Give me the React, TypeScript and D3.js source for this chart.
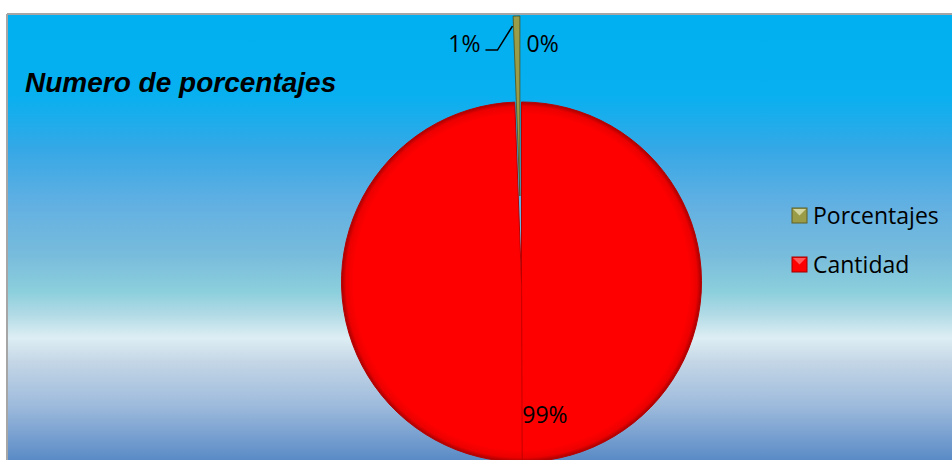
import React from 'react';
import * as d3 from 'd3';

// ---- data ----
const categories = ['Porcentajes', 'Cantidad'];
const values = [0.6, 99.4];
const sliceColors = ['#9a9c48', '#ff0000'];
const legendLight = ['#d4d6a0', '#ff5a5a'];
const legendDark = ['#5e6028', '#a00000'];
const sliverLabels = ['1%', '0%'];
const mainLabel = '99%';
const title = 'Numero de porcentajes';

const W = 952;
const H = 460;
const FONT = "'Open Sans', 'Noto Sans', sans-serif";

export default function App() {
  const cx = 521.5;
  const cy = 282;
  const r = 180;
  const explode = 86;

  const total = d3.sum(values);
  const a0 = (values[0] / total) * Math.PI * 2;
  const pie = d3
    .pie<number>()
    .sort(null)
    .value((d) => d)
    .startAngle(-a0)
    .endAngle(Math.PI * 2 - a0);
  const arcs = pie(values);
  const arc = d3.arc<d3.PieArcDatum<number>>().innerRadius(0).outerRadius(r);

  const sliver = arcs[0];
  const sMid = (sliver.startAngle + sliver.endAngle) / 2;
  const [ex, ey] = d3.pointRadial(sMid, explode);
  const [ox, oy] = d3.pointRadial(sMid, r + explode);
  const sx = cx + ox;
  const sy = cy + oy;

  const main = arcs[1];
  const mMid = (main.startAngle + main.endAngle) / 2;
  const [lx, ly] = d3.pointRadial(mMid - 0.146, 143);
  const [seamX, seamY] = d3.pointRadial(Math.PI - 0.004, r - 2);

  const leader = d3.line()([
    [sx - 4, sy + 10],
    [sx - 19, sy + 34],
    [sx - 31, sy + 34],
  ]);

  const bgStops: [number, string][] = [
    [15, '#00b0f0'],
    [95, '#08b0f0'],
    [150, '#36a8e6'],
    [205, '#62b0e2'],
    [255, '#78bcdc'],
    [292, '#8ccfdc'],
    [315, '#b2dbe6'],
    [338, '#deeef4'],
    [362, '#c4d6e6'],
    [405, '#9ebbdc'],
    [460, '#5a8bc6'],
  ];

  const legendX = 792;
  const legendY = [208, 257];

  return (
    <svg
      width={W}
      height={H}
      style={{ position: 'absolute', left: 0, top: 0, display: 'block' }}
    >
      <defs>
        <linearGradient id="bg" gradientUnits="userSpaceOnUse" x1={0} y1={15} x2={0} y2={460}>
          {bgStops.map(([y, c], i) => (
            <stop key={i} offset={(y - 15) / (460 - 15)} stopColor={c} />
          ))}
        </linearGradient>
        <radialGradient id="redShade" gradientUnits="userSpaceOnUse" cx={0} cy={0} r={r}>
          <stop offset={0} stopColor="#ff0000" />
          <stop offset={0.93} stopColor="#ff0000" />
          <stop offset={0.975} stopColor="#ec0000" />
          <stop offset={1} stopColor="#a80000" />
        </radialGradient>
      </defs>

      <rect x={0} y={0} width={W} height={H} fill="#ffffff" />
      <rect x={8} y={15} width={W} height={H} fill="url(#bg)" />
      <line x1={7} y1={14} x2={W} y2={14} stroke="#a6a6a6" strokeWidth={2} />
      <line x1={7} y1={14} x2={7} y2={H} stroke="#a6a6a6" strokeWidth={2} />

      <text
        x={25}
        y={92}
        fontFamily="'Liberation Sans', Arial, sans-serif"
        fontWeight="bold"
        fontStyle="italic"
        fontSize={28}
        fill="#000"
      >
        {title}
      </text>

      {/* main slice */}
      <g transform={`translate(${cx},${cy})`}>
        <path d={arc(main) || ''} fill="url(#redShade)" stroke="#b80000" strokeWidth={1} />
        <line
          x1={0}
          y1={0}
          x2={seamX}
          y2={seamY}
          stroke="#b80000"
          strokeWidth={1.2}
          opacity={0.7}
        />
      </g>

      {/* exploded sliver */}
      <g transform={`translate(${cx + ex},${cy + ey})`}>
        <path d={arc(sliver) || ''} fill={sliceColors[0]} stroke="#4c4e1c" strokeWidth={0.8} />
      </g>

      {/* labels */}
      <path d={leader || ''} fill="none" stroke="#000" strokeWidth={1.5} />
      <text x={sx - 36} y={sy + 36} textAnchor="end" fontFamily={FONT} fontSize={23} fill="#000">
        {sliverLabels[0]}
      </text>
      <text x={sx + 10} y={sy + 36} textAnchor="start" fontFamily={FONT} fontSize={23} fill="#000">
        {sliverLabels[1]}
      </text>
      <text x={cx + lx} y={cy + ly} textAnchor="middle" fontFamily={FONT} fontSize={23} fill="#000">
        {mainLabel}
      </text>

      {/* legend */}
      {categories.map((c, i) => (
        <g key={c} transform={`translate(${legendX},${legendY[i]})`}>
          <rect x={0} y={0} width={15} height={15} fill={sliceColors[i]} stroke={legendDark[i]} strokeWidth={1} />
          <path d="M1,1 L14,1 L7.5,7.5 Z" fill={legendLight[i]} />
          <text x={21} y={15.5} fontFamily={FONT} fontSize={23} fill="#000">
            {c}
          </text>
        </g>
      ))}
    </svg>
  );
}
